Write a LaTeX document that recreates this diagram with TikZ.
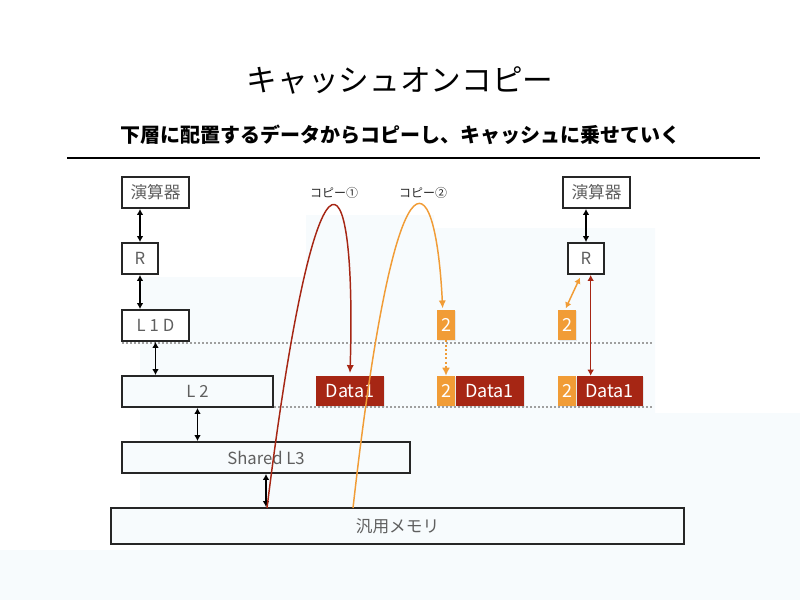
\documentclass[tikz,border=0pt]{standalone}
\usepackage{fontspec}
\setmainfont{Noto Sans CJK JP}
\usepackage{tikz}
\usetikzlibrary{arrows.meta,positioning,shadows}
\definecolor{datared}{RGB}{166,38,20}
\definecolor{copyorange}{RGB}{241,156,54}
\definecolor{labelgray}{RGB}{95,95,95}
\definecolor{bgtint}{RGB}{247,251,253}
\tikzset{
    cache box/.style={
        draw=black!85,
        line width=1.4pt,
        fill=white,
        inner sep=0pt,
        minimum height=23.25pt,
        text=labelgray,
        font=\fontsize{12.5}{14}\selectfont,
        drop shadow={shadow xshift=0.8pt, shadow yshift=-0.8pt, opacity=0.18}
    },
    cache wide/.style={cache box, fill=bgtint},
    data block/.style={
        fill=datared,
        text=white,
        inner sep=0pt,
        minimum height=22.5pt,
        font=\fontsize{13.5}{15}\selectfont,
        drop shadow={shadow xshift=0.8pt, shadow yshift=-0.8pt, opacity=0.15}
    },
    copy block/.style={data block, fill=copyorange, minimum width=13.5pt},
    copy label/.style={font=\fontsize{9}{10}\selectfont, text=black!85},
    bus arrow/.style={{Latex[length=4.5pt,width=5pt]}-{Latex[length=4.5pt,width=5pt]}, line width=1.2pt, draw=black},
    copy curve/.style={-{Latex[length=6pt,width=5.5pt]}, line width=1.1pt},
    level line/.style={draw=gray!75, line width=1.2pt, dash pattern=on 1.2pt off 1.8pt}
}

\begin{document}
\begin{tikzpicture}[x=0.75pt, y=-0.75pt]
\useasboundingbox (0,0) rectangle (800,600);
% faint background
\fill[bgtint] (0,600) -- (0,550) -- (140,550) -- (140,277) -- (306,277) -- (306,215)
    -- (434,215) -- (434,228) -- (655,228) -- (655,413) -- (800,413) -- (800,600) -- cycle;

% Title
\node (title) at (400,80) {\fontsize{23}{26}\selectfont キャッシュオンコピー};
\node (subtitle) at (400,135) {\fontsize{15}{17}\selectfont\bfseries 下層に配置するデータからコピーし、キャッシュに乗せていく};
\draw[line width=1.1pt] (67,158) coordinate (ruleL) -- (760,158) coordinate (ruleR);

% level lines
\draw[level line] (122,343) coordinate (l1L) -- (652,343) coordinate (l1R);
\draw[level line] (122,407) coordinate (l2L) -- (652,407) coordinate (l2R);

% Left column
\node[cache box, minimum width=50.25pt] (opL) at (155.5,192.5) {演算器};
\node[cache box, minimum width=27pt] (regL) at (140,258.5) {R};
\node[cache box, minimum width=50.25pt] (l1d) at (155.5,325.5) {L\hspace{3pt}1\hspace{3pt}D};
\node[cache wide, minimum width=113.25pt] (l2) at (197.5,391.5) {L\hspace{3pt}2};
\node[cache wide, minimum width=216pt] (l3) at (266,457.5) {Shared L3};
\node[cache wide, minimum width=429.75pt, minimum height=27pt] (mem) at (397.5,526) {汎用メモリ};
\draw[bus arrow] (regL.north |- opL.south) -- (regL.north);
\draw[bus arrow] (regL.south) -- (regL.south |- l1d.north);
\draw[bus arrow] (l1d.south) -- (l1d.south |- l2.north);
\draw[bus arrow] (l2.south) -- (l2.south |- l3.north);
\draw[bus arrow] (l3.south) -- (l3.south |- mem.north);

% Copies
\node[data block, minimum width=51pt] (d1) at (350,391) {Data1};
\node[copy block] (c2top) at (446,325) {2};
\node[copy block] (c2) at (446,391) {2};
\node[data block, minimum width=51pt, right=0pt of c2] (d2) {Data1};
\node[copy block] (c3top) at (567,325) {2};
\node[copy block] (c3) at (567,391) {2};
\node[data block, minimum width=49.5pt, right=0pt of c3] (d3) {Data1};

% Right column
\node[cache box, minimum width=50.25pt] (opR) at (596.5,192.5) {演算器};
\node[cache box, minimum width=27pt] (regR) at (586,258.5) {R};
\draw[bus arrow] (opR.south -| regR.north) -- (regR.north);
\draw[bus arrow, draw=datared, line width=1.1pt] ([xshift=3.5pt]regR.south) -- ([xshift=3.5pt]regR.south |- d3.north);
\draw[bus arrow, draw=copyorange, line width=1.1pt] ([xshift=-1pt,yshift=1pt]c3top.north) -- ([xshift=-4.5pt,yshift=-2pt]regR.south);

% copy curves
\node[copy label] (cap1) at (334,193) {コピー①};
\node[copy label] (cap2) at (423,193) {コピー②};
\coordinate (m1) at (267,508);
\coordinate (m2) at (353,508);
\draw[copy curve, datared] (m1) .. controls (315,120) and (357,140) .. ([yshift=2pt]d1.north);
\draw[copy curve, copyorange] (m2) .. controls (395,135) and (435,155) .. ([xshift=-2.5pt,yshift=1pt]c2top.north);
\draw[copyorange, line width=1.6pt, dash pattern=on 1.6pt off 1.6pt, -{Latex[length=6pt,width=6pt]}] (c2top.south) -- (c2.north);
\end{tikzpicture}
\end{document}
